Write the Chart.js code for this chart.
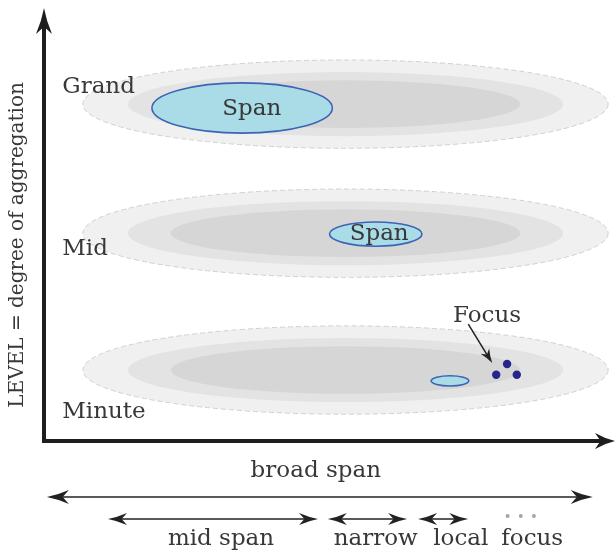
<!DOCTYPE html>
<html>
<head>
<meta charset="utf-8">
<script src="https://cdn.jsdelivr.net/npm/chart.js@4.4.1/dist/chart.umd.min.js"></script>
<style>
  html, body { margin: 0; padding: 0; background: #fff; overflow: hidden; }
  #wrap { position: relative; width: 616px; height: 558px; }
</style>
</head>
<body>
<div id="wrap"><canvas id="chart"></canvas></div>
<script>
// x = span (0..100), y = level of aggregation (0..100), below 0 = span scale rows

// levels and their grey bands (outer, middle, inner)
const levelNames = ['Grand', 'Mid', 'Minute']
const levelCenters = [77.8, 48.0, 16.4]
const levelLabelY = [80.4, 43.0, 5.3]
const levelLabelX = 3.2
const bandCenterX = 52.8
const bandRadiusX = [46.0, 38.1, 30.6]
const bandRadiusY = [10.2, 7.4, 5.5]
const bandColors = ['#f0f0f0', '#e3e3e3', '#d6d6d6']

// blue span ellipses, one per level
const spanCenterX = [34.7, 58.1, 71.1]
const spanCenterY = [76.9, 47.8, 13.9]
const spanRadiusX = [15.8, 8.1, 3.3]
const spanRadiusY = [5.8, 2.8, 1.2]
const spanLabels = ['Span', 'Span', '']
const spanLabelX = [36.4, 58.7, 71.1]
const spanLabelY = [75.3, 46.4, 13.9]

// focus points at the minute level
const focusX = [79.2, 81.1, 82.8]
const focusY = [15.3, 17.8, 15.3]
const focusArrowX = [74.3, 78.5]
const focusArrowY = [27.0, 18.0]
const focusLabelX = 77.6
const focusLabelY = 27.5

// span scale under the x axis
const broadLabel = 'broad span'
const broadLabelX = 47.6
const broadLabelY = -8.3
const broadFrom = 0.5
const broadTo = 96.1
const broadRow = -12.9
const rangeNames = ['mid span', 'narrow', 'local', 'focus']
const rangeFrom = [11.2, 49.7, 65.5]
const rangeTo = [48.0, 63.6, 74.3]
const rangeRow = -18.0
const rangeLabelX = [31.0, 58.1, 73.0, 85.5]
const rangeLabelY = -24.0
const ellipsisX = [81.2, 83.5, 85.8]
const ellipsisY = -17.3

const yTitle = 'LEVEL = degree of aggregation'
const yTitleX = -4.6
const yTitleY = 45.3

const FONT = '23px "DejaVu Serif"'
const TEXT = '#383838'

function arrowHead(ctx, x, y, angle, len, half) {
    ctx.save()
    ctx.translate(x, y)
    ctx.rotate(angle)
    ctx.beginPath()
    ctx.moveTo(0, 0)
    ctx.quadraticCurveTo(-len * 0.5, -half * 0.3, -len, -half)
    ctx.lineTo(-len * 0.72, 0)
    ctx.lineTo(-len, half)
    ctx.quadraticCurveTo(-len * 0.5, half * 0.3, 0, 0)
    ctx.closePath()
    ctx.fill()
    ctx.restore()
}

const diagram = {
    id: 'diagram',
    beforeDatasetsDraw(chart) {
        const { ctx, scales: { x, y } } = chart
        const px = v => x.getPixelForValue(v)
        const py = v => y.getPixelForValue(v)
        ctx.save()

        // grey bands
        levelCenters.forEach(cy => {
            bandRadiusX.forEach((rx, k) => {
                ctx.beginPath()
                ctx.ellipse(px(bandCenterX), py(cy),
                    px(bandCenterX + rx) - px(bandCenterX),
                    py(cy) - py(cy + bandRadiusY[k]), 0, 0, Math.PI * 2)
                ctx.fillStyle = bandColors[k]
                ctx.fill()
                if (k === 0) {
                    ctx.setLineDash([5, 3])
                    ctx.lineWidth = 1
                    ctx.strokeStyle = '#d0d0d0'
                    ctx.stroke()
                    ctx.setLineDash([])
                }
            })
        })

        // blue spans
        spanCenterX.forEach((cx, i) => {
            ctx.beginPath()
            ctx.ellipse(px(cx), py(spanCenterY[i]),
                px(cx + spanRadiusX[i]) - px(cx),
                py(spanCenterY[i]) - py(spanCenterY[i] + spanRadiusY[i]), 0, 0, Math.PI * 2)
            ctx.fillStyle = '#a9dce6'
            ctx.fill()
            ctx.lineWidth = 1.6
            ctx.strokeStyle = '#3d63b5'
            ctx.stroke()
        })

        // text on bands
        ctx.font = FONT
        ctx.fillStyle = TEXT
        ctx.textBaseline = 'alphabetic'
        ctx.textAlign = 'left'
        levelNames.forEach((name, i) => ctx.fillText(name, px(levelLabelX), py(levelLabelY[i])))
        ctx.textAlign = 'center'
        spanLabels.forEach((s, i) => { if (s) ctx.fillText(s, px(spanLabelX[i]), py(spanLabelY[i])) })
        ctx.fillText('Focus', px(focusLabelX), py(focusLabelY))

        // focus arrow
        ctx.strokeStyle = '#222'
        ctx.fillStyle = '#222'
        ctx.lineWidth = 1.5
        const ax0 = px(focusArrowX[0]), ay0 = py(focusArrowY[0])
        const ax1 = px(focusArrowX[1]), ay1 = py(focusArrowY[1])
        const ang = Math.atan2(ay1 - ay0, ax1 - ax0)
        ctx.beginPath()
        ctx.moveTo(ax0, ay0)
        ctx.lineTo(ax1 - Math.cos(ang) * 8, ay1 - Math.sin(ang) * 8)
        ctx.stroke()
        arrowHead(ctx, ax1, ay1, ang, 14, 5)

        // axes
        ctx.strokeStyle = '#1e1e1e'
        ctx.fillStyle = '#1e1e1e'
        ctx.lineWidth = 4
        ctx.beginPath()
        ctx.moveTo(px(0), py(0) + 2)
        ctx.lineTo(px(0), py(100) + 18)
        ctx.moveTo(px(0) - 2, py(0))
        ctx.lineTo(px(100) - 14, py(0))
        ctx.stroke()
        arrowHead(ctx, px(0), py(100), -Math.PI / 2, 26, 8)
        arrowHead(ctx, px(100), py(0), 0, 20, 8)

        // y title
        ctx.save()
        ctx.translate(px(yTitleX), py(yTitleY))
        ctx.rotate(-Math.PI / 2)
        ctx.font = '20px "DejaVu Serif"'
        ctx.fillStyle = TEXT
        ctx.textAlign = 'center'
        ctx.textBaseline = 'middle'
        ctx.fillText(yTitle, 0, 0)
        ctx.restore()

        // span scale
        ctx.font = FONT
        ctx.fillStyle = TEXT
        ctx.textAlign = 'center'
        ctx.textBaseline = 'alphabetic'
        ctx.fillText(broadLabel, px(broadLabelX), py(broadLabelY))
        rangeNames.forEach((n, i) => ctx.fillText(n, px(rangeLabelX[i]), py(rangeLabelY)))

        const drawRange = (from, to, row, len, half) => {
            const x0 = px(from), x1 = px(to), yy = py(row)
            ctx.strokeStyle = '#5a5a5a'
            ctx.lineWidth = 2
            ctx.beginPath()
            ctx.moveTo(x0 + len * 0.6, yy)
            ctx.lineTo(x1 - len * 0.6, yy)
            ctx.stroke()
            ctx.fillStyle = '#222'
            arrowHead(ctx, x0, yy, Math.PI, len, half)
            arrowHead(ctx, x1, yy, 0, len, half)
        }
        drawRange(broadFrom, broadTo, broadRow, 22, 7)
        rangeFrom.forEach((f, i) => drawRange(f, rangeTo[i], rangeRow, 19, 6))

        ctx.restore()
    }
}

new Chart(document.getElementById('chart'), {
    type: 'scatter',
    data: {
        datasets: [
            {
                label: 'focus',
                data: focusX.map((v, i) => ({ x: v, y: focusY[i] })),
                pointRadius: 4.2,
                backgroundColor: '#25258c',
                borderWidth: 0,
            },
            {
                label: 'more',
                data: ellipsisX.map(v => ({ x: v, y: ellipsisY })),
                pointRadius: 2,
                backgroundColor: '#a5a5a5',
                borderWidth: 0,
            },
        ]
    },
    options: {
        responsive: true,
        maintainAspectRatio: false,
        devicePixelRatio: 1,
        animation: false,
        layout: { autoPadding: false, padding: { left: 44, right: 1, top: 8, bottom: 0 } },
        plugins: { legend: { display: false }, tooltip: { enabled: false } },
        scales: {
            x: { type: 'linear', min: 0, max: 100, display: false },
            y: { type: 'linear', min: -27, max: 100, display: false },
        }
    },
    plugins: [diagram]
})
</script>
</body>
</html>
